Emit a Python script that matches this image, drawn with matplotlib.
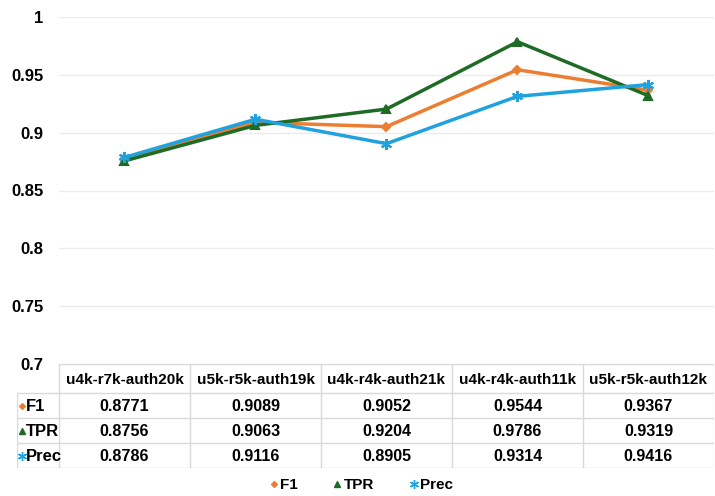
import matplotlib.pyplot as plt
from matplotlib.lines import Line2D

categories = ['u4k-r7k-auth20k', 'u5k-r5k-auth19k', 'u4k-r4k-auth21k',
              'u4k-r4k-auth11k', 'u5k-r5k-auth12k']
f1 = [0.8771, 0.9089, 0.9052, 0.9544, 0.9367]
tpr = [0.8756, 0.9063, 0.9204, 0.9786, 0.9319]
prec = [0.8786, 0.9116, 0.8905, 0.9314, 0.9416]
yticks = [0.7, 0.75, 0.8, 0.85, 0.9, 0.95, 1.0]
ytick_labels = ['0.7', '0.75', '0.8', '0.85', '0.9', '0.95', '1']

series = [
    ('F1', f1, '#ED7D31', 'D', 4.5),
    ('TPR', tpr, '#1E6B25', '^', 6),
    ('Prec', prec, '#1FA2DE', (6, 2, 0), 8),
]

plt.rcParams['font.family'] = ['Liberation Sans', 'DejaVu Sans']
plt.rcParams['font.weight'] = 'bold'

W, H = 715, 496
fig = plt.figure(figsize=(W / 100, H / 100), dpi=100)

# main plot area
left, right, top, bottom = 59, 714, 17, 364
ax = fig.add_axes([left / W, 1 - bottom / H, (right - left) / W, (bottom - top) / H])
xs = [i + 0.5 for i in range(len(categories))]
for name, vals, color, marker, ms in series:
    ax.plot(xs, vals, color=color, lw=2.5, marker=marker, ms=ms,
            markeredgecolor=color, markerfacecolor=color, mew=1.5)
ax.set_xlim(0, len(categories))
ax.set_ylim(0.7, 1.0)
ax.set_yticks(yticks)
ax.set_yticklabels(ytick_labels, fontsize=12, fontweight='bold')
ax.tick_params(axis='y', length=0, pad=11)
ax.set_xticks([])
for s in ax.spines.values():
    s.set_visible(False)
ax.grid(axis='y', color='#EBEBEB', lw=1)
ax.set_axisbelow(True)

# data table
tleft, tbottom = 17, 468
label_w = (left - tleft) / ((right - left) / len(categories))
row_edges = [0, 1.16, 2.16, 3.16, 4.16]
tax = fig.add_axes([tleft / W, 1 - tbottom / H, (right - tleft) / W, (tbottom - bottom) / H])
tax.set_xlim(-label_w, len(categories))
tax.set_ylim(row_edges[-1], 0)
tax.axis('off')
gc = '#D9D9D9'
tax.plot([0, len(categories)], [0, 0], color=gc, lw=1)
for y in row_edges[1:]:
    tax.plot([-label_w, len(categories)], [y, y], color=gc, lw=1)
tax.plot([-label_w, -label_w], [row_edges[1], row_edges[-1]], color=gc, lw=1)
for i in range(len(categories) + 1):
    tax.plot([i, i], [0, row_edges[-1]], color=gc, lw=1)
fs = 11
for i, c in enumerate(categories):
    tax.text(i + 0.5, (row_edges[0] + row_edges[1]) / 2 + 0.05, c, ha='center',
             va='center', fontsize=fs, fontweight='bold')
for r, (name, vals, color, marker, ms) in enumerate(series):
    yc = (row_edges[r + 1] + row_edges[r + 2]) / 2 + 0.03
    tax.plot([-label_w + 0.04], [yc], marker=marker, color=color, ms=ms - 1.5,
             clip_on=False)
    tax.text(-label_w + 0.07, yc, name, ha='left', va='center', fontsize=12,
             fontweight='bold')
    for i, v in enumerate(vals):
        tax.text(i + 0.5, yc, f'{v:.4f}', ha='center', va='center',
                 fontsize=11.6, fontweight='bold')

handles = [Line2D([], [], color=c, marker=m, ms=ms - 1.5, ls='none')
           for _, _, c, m, ms in series]
fig.legend(handles, [s[0] for s in series], loc='center',
           bbox_to_anchor=(361 / W, 1 - 485 / H), ncol=3, frameon=False,
           handlelength=0.6, handletextpad=0.1, columnspacing=2.3,
           prop={'size': 11, 'weight': 'bold'})

fig.savefig('out.png', dpi=100)
